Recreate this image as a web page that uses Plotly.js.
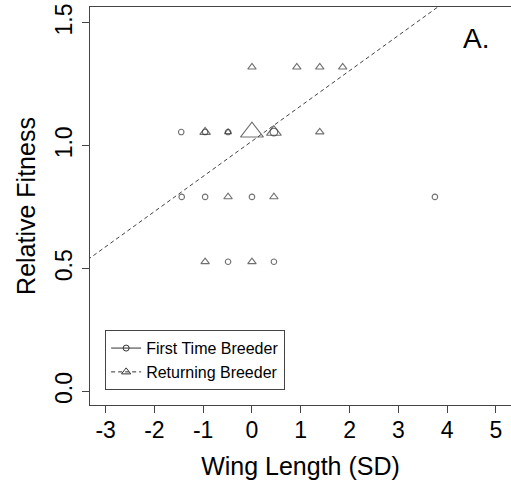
<!DOCTYPE html>
<html>
<head>
<meta charset="utf-8">
<script src="https://cdn.plot.ly/plotly-3.0.1.min.js"></script>
<style>
html,body{margin:0;padding:0;background:#fff;}
#chart{width:511px;height:492px;}
</style>
</head>
<body>
<div id="chart"></div>
<script>
// First Time Breeder (circles)
var firstX = [-1.45, -0.96, -0.49, 0.45, -1.44, -0.96, 0.00, 3.75, -0.49, 0.45];
var firstY = [1.056, 1.056, 1.056, 1.056, 0.792, 0.792, 0.792, 0.792, 0.528, 0.528];
var firstN = [1, 1, 1, 1.4, 1, 1, 1, 1, 1, 1];

// Returning Breeder (triangles)
var retX = [0.00, 0.92, 1.39, 1.86, -0.96, -0.49, 0.00, 0.45, 1.39, -0.49, 0.45, -0.96, 0.00];
var retY = [1.320, 1.320, 1.320, 1.320, 1.056, 1.056, 1.056, 1.056, 1.056, 0.792, 0.792, 0.528, 0.528];
var retN = [1, 1, 1, 1, 1.25, 0.85, 2.7, 1.75, 1, 1, 1, 1, 1];

// Regression for returning breeders
var retFit = {intercept: 1.019, slope: 0.1433};
var fitX = [-3.6, 5.6];

var xTicks = [-3, -2, -1, 0, 1, 2, 3, 4, 5];
var xTickText = ['-3', '-2', '-1', '0', '1', '2', '3', '4', '5'];
var yTicks = [0, 0.5, 1.0, 1.5];
var yTickText = ['0.0', '0.5', '1.0', '1.5'];

var FONT = 'Liberation Sans, Arial, sans-serif';
var INK = '#333333';

var fitY = fitX.map(function (x) { return retFit.intercept + retFit.slope * x; });

var traces = [
  {
    x: fitX, y: fitY, mode: 'lines', showlegend: false, hoverinfo: 'skip',
    line: {color: '#444444', width: 1, dash: '4px,3px'}
  },
  {
    x: retX, y: retY, mode: 'markers', showlegend: false,
    marker: {symbol: 'triangle-up-open', size: retN.map(function (n) { return 7.4 * n; }),
             color: INK, line: {color: INK, width: 1.1}}
  },
  {
    x: firstX, y: firstY, mode: 'markers', showlegend: false,
    marker: {symbol: 'circle-open', size: firstN.map(function (n) { return 5.5 * n; }),
             color: INK, line: {color: INK, width: 1.1}}
  },
  {
    x: [null], y: [null], mode: 'lines+markers', name: 'First Time Breeder',
    line: {color: INK, width: 1}, marker: {symbol: 'circle-open', size: 6, color: INK, line: {width: 1}}
  },
  {
    x: [null], y: [null], mode: 'lines+markers', name: 'Returning Breeder',
    line: {color: INK, width: 1, dash: '4px,3px'}, marker: {symbol: 'triangle-up-open', size: 8, color: INK, line: {width: 1}}
  }
];

var layout = {
  width: 511, height: 492,
  margin: {l: 90, r: 0, t: 7, b: 87},
  paper_bgcolor: '#ffffff', plot_bgcolor: '#ffffff',
  font: {family: FONT, color: '#000000'},
  showlegend: true,
  legend: {
    x: 0.036, y: 0.188, xanchor: 'left', yanchor: 'top',
    bordercolor: '#444444', borderwidth: 1, bgcolor: '#ffffff',
    font: {family: FONT, size: 16, color: '#000000'},
    tracegroupgap: 0
  },
  xaxis: {
    range: [-3.32, 5.31], tickvals: xTicks, ticktext: xTickText, ticks: 'outside', ticklen: 7, tickwidth: 1,
    tickcolor: '#444444', showline: true, mirror: true, linecolor: '#444444', linewidth: 1,
    showgrid: false, zeroline: false, ticklabelstandoff: -3,
    tickfont: {family: FONT, size: 23, color: '#000000'},
    title: {text: 'Wing Length (SD)', font: {family: FONT, size: 25, color: '#000000'}, standoff: 15}
  },
  yaxis: {
    range: [-0.055, 1.565], tickvals: yTicks, ticktext: yTickText, tickangle: -90,
    ticks: 'outside', ticklen: 7, tickwidth: 1, tickcolor: '#444444',
    showline: true, mirror: false, linecolor: '#444444', linewidth: 1,
    showgrid: false, zeroline: false, ticklabelstandoff: 1,
    tickfont: {family: FONT, size: 23, color: '#000000'},
    title: {text: 'Relative Fitness', font: {family: FONT, size: 25, color: '#000000'}, standoff: 8}
  },
  annotations: [{
    text: 'A.', xref: 'paper', yref: 'paper', x: 0.917, y: 0.92,
    xanchor: 'center', yanchor: 'middle', showarrow: false,
    font: {family: FONT, size: 28, color: '#000000'}
  }]
};

Plotly.newPlot('chart', traces, layout, {displayModeBar: false, staticPlot: true});
</script>
</body>
</html>
